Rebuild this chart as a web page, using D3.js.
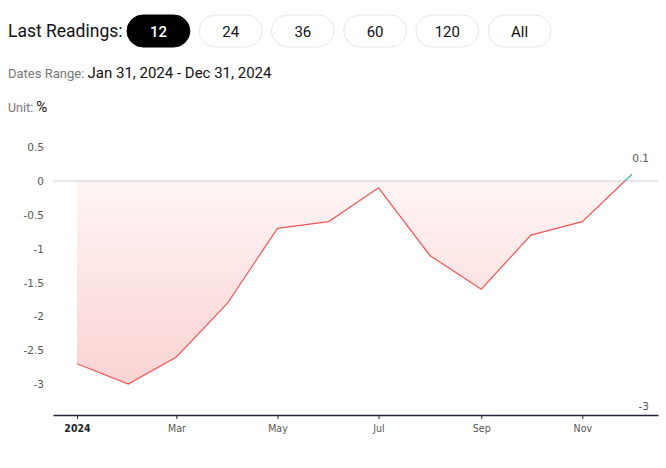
<!DOCTYPE html>
<html><head><meta charset="utf-8">
<script src="https://cdn.jsdelivr.net/npm/d3@7"></script>
<style>
body{margin:0;background:#fff;}
svg{display:block;}
</style></head>
<body>
<svg id="c" width="666" height="468"></svg>
<script>
const months = ["2024-01-01","2024-02-01","2024-03-01","2024-04-01","2024-05-01","2024-06-01","2024-07-01","2024-08-01","2024-09-01","2024-10-01","2024-11-01","2024-12-01"];
const values = [-2.7,-3.0,-2.6,-1.8,-0.7,-0.6,-0.1,-1.1,-1.6,-0.8,-0.6,0.1];
const buttons = ["12","24","36","60","120","All"];
const yTicks = [0.5,0,-0.5,-1,-1.5,-2,-2.5,-3];
const dateRange = "Jan 31, 2024 - Dec 31, 2024";
const unit = "%";

const parse = d3.timeParse("%Y-%m-%d");
const data = months.map((m,i)=>({d:parse(m), v:values[i]}));
const svg = d3.select("#c");
const font = "Roboto, 'Open Sans', sans-serif";

// header
svg.append("text").attr("x",8).attr("y",37).attr("font-family",font).attr("font-size",17.5).attr("fill","#111").text("Last Readings:");
const bx = d3.scaleBand().domain(buttons).range([127,551]).paddingInner(0.13);
const bg = svg.selectAll("g.btn").data(buttons).join("g").attr("class","btn");
bg.append("rect").attr("x",d=>bx(d)).attr("y",15).attr("width",bx.bandwidth()).attr("height",32).attr("rx",16)
  .attr("fill",(d,i)=>i===0?"#000":"#fff").attr("stroke",(d,i)=>i===0?"#000":"#e6e6e6");
bg.append("text").attr("x",d=>bx(d)+bx.bandwidth()/2).attr("y",37).attr("text-anchor","middle")
  .attr("font-family",font).attr("font-size",15).attr("fill",(d,i)=>i===0?"#fff":"#111").attr("font-weight",(d,i)=>i===0?500:400).text(d=>d);

const dr = svg.append("text").attr("x",8).attr("y",78).attr("font-family",font);
dr.append("tspan").attr("font-size",13).attr("fill","#777").text("Dates Range: ");
dr.append("tspan").attr("font-size",15).attr("fill","#111").text(dateRange);
const un = svg.append("text").attr("x",8).attr("y",112).attr("font-family",font);
un.append("tspan").attr("font-size",12.5).attr("fill","#777").text("Unit: ");
un.append("tspan").attr("font-size",15).attr("fill","#111").text(unit);

// scales
const x0 = d3.scaleTime().domain([new Date(2024,0,1), new Date(2024,11,1)]).range([77,632]);
const x = x0.copy().domain([x0.invert(53), x0.invert(658)]).range([53,658]);
const y = d3.scaleLinear().domain([0,-3]).range([181,384]);
const bottom = 415;

const defs = svg.append("defs");
const ag = defs.append("linearGradient").attr("id","ag").attr("gradientUnits","userSpaceOnUse")
  .attr("x1",0).attr("x2",0).attr("y1",y(0)).attr("y2",y(-3));
ag.append("stop").attr("offset",0).attr("stop-color","#fff5f5");
ag.append("stop").attr("offset",1).attr("stop-color","#fbd3d3");
const lg = defs.append("linearGradient").attr("id","lg").attr("gradientUnits","userSpaceOnUse")
  .attr("x1",0).attr("x2",0).attr("y1",y(0.5)).attr("y2",y(-3));
const off = (y(0)-y(0.5))/(y(-3)-y(0.5));
lg.append("stop").attr("offset",off).attr("stop-color","#3bbf9c");
lg.append("stop").attr("offset",off).attr("stop-color","#f25555");

// y tick labels
svg.selectAll("text.yt").data(yTicks).join("text").attr("class","yt")
  .attr("x",44).attr("y",d=>y(d)+4).attr("text-anchor","end")
  .attr("font-family","'DejaVu Sans', Verdana, sans-serif").attr("font-size",10.5).attr("fill","#555")
  .text(d=>d3.format("")(d).replace("−","-"));

// area
svg.append("path").datum(data).attr("fill","url(#ag)")
  .attr("d",d3.area().x(d=>x(d.d)).y0(y(0)).y1(d=>y(d.v)));
// zero line
svg.append("line").attr("x1",53).attr("x2",658).attr("y1",y(0)).attr("y2",y(0)).attr("stroke","#cfcfcf").attr("stroke-width",1);
// line
svg.append("path").datum(data).attr("fill","none").attr("stroke","url(#lg)").attr("stroke-width",1.2)
  .attr("d",d3.line().x(d=>x(d.d)).y(d=>y(d.v)));

// x axis
const xa = svg.append("g").attr("transform",`translate(0,${bottom})`)
  .call(d3.axisBottom(x).ticks(d3.timeMonth.every(2)).tickSize(4).tickSizeOuter(0)
    .tickFormat(d=>d.getMonth()===0?d3.timeFormat("%Y")(d):d3.timeFormat("%b")(d)));
xa.select(".domain").attr("stroke","#22223a").attr("stroke-width",1.5);
xa.selectAll(".tick line").attr("stroke","#22223a");
xa.selectAll(".tick text").attr("font-family","'DejaVu Sans Condensed','DejaVu Sans',sans-serif").attr("font-size",10.5)
  .attr("y",17).attr("dy",0).attr("fill",d=>d.getMonth()===0?"#222":"#555")
  .attr("font-weight",d=>d.getMonth()===0?"bold":"normal");

// max/min labels
const maxV = d3.max(values), minV = d3.min(values);
svg.append("text").attr("x",649).attr("y",162).attr("text-anchor","end").attr("font-family","'DejaVu Sans',sans-serif")
  .attr("font-size",10.5).attr("fill","#555").text(maxV);
svg.append("text").attr("x",649).attr("y",410).attr("text-anchor","end").attr("font-family","'DejaVu Sans',sans-serif")
  .attr("font-size",10.5).attr("fill","#555").text(minV);
</script>
</body></html>
